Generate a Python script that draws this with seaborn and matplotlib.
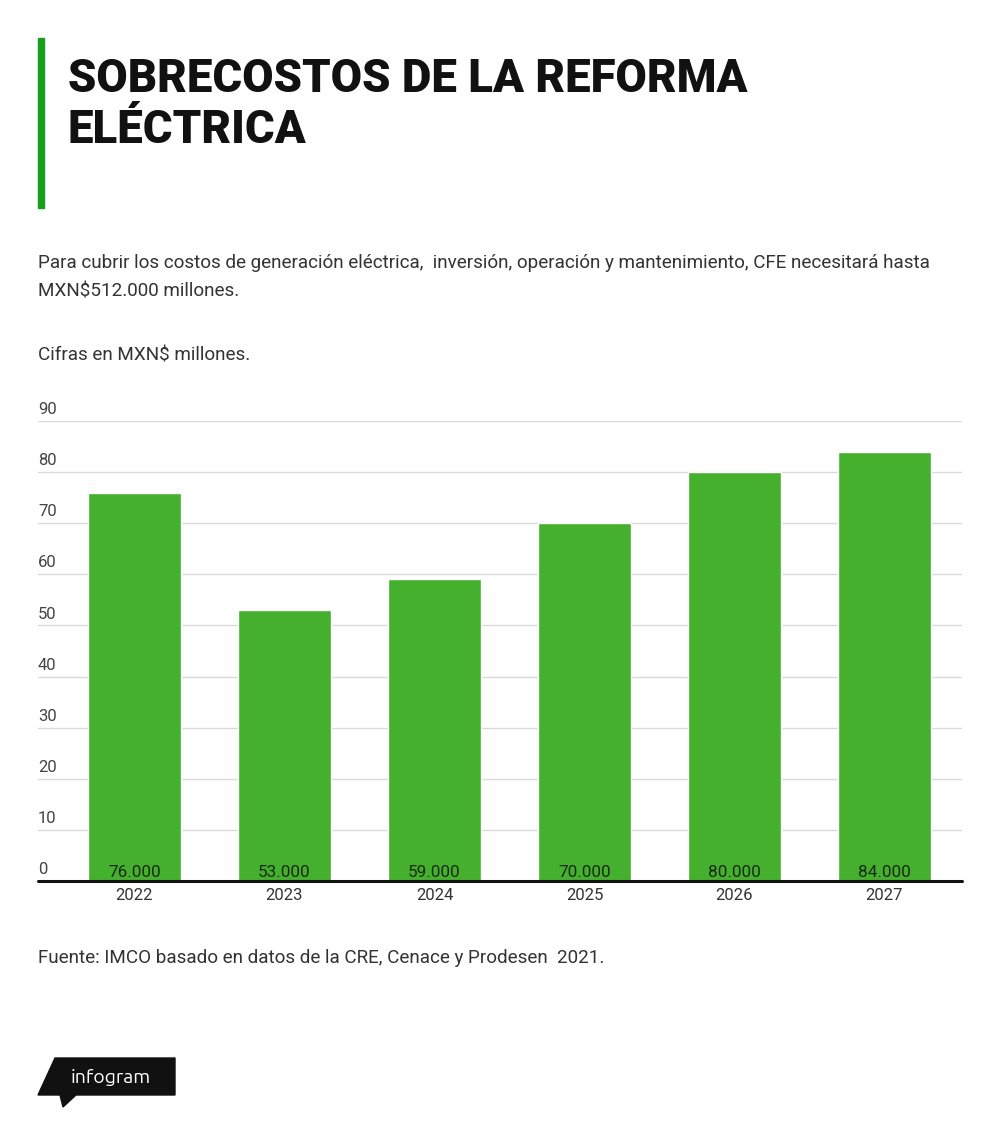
import matplotlib
matplotlib.use("Agg")
import matplotlib.pyplot as plt
import seaborn as sns
import pandas as pd
from matplotlib.patches import Polygon, Rectangle
from matplotlib.transforms import blended_transform_factory

years = ["2022", "2023", "2024", "2025", "2026", "2027"]
values = [76, 53, 59, 70, 80, 84]
value_labels = ["76.000", "53.000", "59.000", "70.000", "80.000", "84.000"]
y_ticks = [0, 10, 20, 30, 40, 50, 60, 70, 80, 90]

title_lines = ["SOBRECOSTOS DE LA REFORMA", "ELÉCTRICA"]
subtitle_lines = ["Para cubrir los costos de generación eléctrica,  inversión, operación y mantenimiento, CFE necesitará hasta",
                  "MXN$512.000 millones."]
units = "Cifras en MXN$ millones."
source = "Fuente: IMCO basado en datos de la CRE, Cenace y Prodesen  2021."

sns.set_theme(style="white")
plt.rcParams['font.family'] = ['Liberation Sans', 'DejaVu Sans']

W, H = 1000, 1127
fig = plt.figure(figsize=(W / 100, H / 100), dpi=100)
fig.patch.set_facecolor("white")

def fx(px):
    return px / W

def fy(py):
    return 1 - py / H

body_font = ["Roboto", "DejaVu Sans"]

# Axes
ax_left, ax_right, ax_top, ax_bottom = 38, 962, 421, 881
ax = fig.add_axes([fx(ax_left), fy(ax_bottom), fx(ax_right - ax_left), (ax_bottom - ax_top) / H])
df = pd.DataFrame({"year": years, "value": values})
sns.barplot(data=df, x="year", y="value", color="#45b02d", saturation=1, width=0.62, ax=ax, zorder=3)
ax.set_xlim(-0.643, 5.517)
ax.set_ylim(0, 90)
for s in ["top", "right", "left", "bottom"]:
    ax.spines[s].set_visible(False)
ax.set_xlabel("")
ax.set_ylabel("")
ax.set_yticks(y_ticks)
ax.set_yticklabels([])
ax.tick_params(axis="y", length=0)
ax.tick_params(axis="x", length=0, pad=5, labelsize=12, labelcolor="#333333")
for lbl in ax.get_xticklabels():
    lbl.set_family(body_font)
for t in y_ticks[1:]:
    ax.axhline(t, color="#dadada", lw=1, zorder=1)
ax.axhline(0, color="#111111", lw=2.2, zorder=4, clip_on=False)
trans = blended_transform_factory(ax.transAxes, ax.transData)
for t in y_ticks:
    ax.text(0.0, t + 0.75, str(t), transform=trans, ha="left", va="bottom",
            fontsize=12, color="#444444", family=body_font)
for i, lab in enumerate(value_labels):
    ax.text(i, 0.25, lab, ha="center", va="bottom", fontsize=12.3, color="#1a2a14",
            zorder=5, family=body_font)

# Accent bar
fig.patches.append(Rectangle((fx(38), fy(208)), fx(6), (208 - 38) / H,
                             transform=fig.transFigure, color="#16a01a"))

# Title
title_font = ["Roboto", "Liberation Sans"]
fig.text(fx(68), fy(92), title_lines[0], fontsize=32.8, fontweight=900,
         family=title_font, color="#111111", va="baseline")
fig.text(fx(68), fy(143), title_lines[1], fontsize=32.8, fontweight=900,
         family=title_font, color="#111111", va="baseline")

# Subtitle
fig.text(fx(38), fy(268), subtitle_lines[0], fontsize=13.6, color="#333333", va="baseline",
         family=body_font)
fig.text(fx(38), fy(297), subtitle_lines[1], fontsize=13.6, color="#333333", va="baseline",
         family=body_font)
fig.text(fx(38), fy(360), units, fontsize=13.6, color="#333333", va="baseline",
         family=body_font)
fig.text(fx(38), fy(963), source, fontsize=13.6, color="#333333", va="baseline",
         family=body_font)

# Logo
pts = [(55, 1058), (175, 1058), (175, 1095), (76, 1095), (63, 1107), (60, 1095), (38, 1095)]
fig.patches.append(Polygon([(fx(x), fy(y)) for x, y in pts], closed=True,
                           transform=fig.transFigure, color="#111111"))
fig.text(fx(111), fy(1077), "infogram", fontsize=14, fontweight="bold", color="white",
         ha="center", va="center", family=["Ubuntu", "DejaVu Sans"])

fig.savefig("out.png", dpi=100, facecolor="white")
